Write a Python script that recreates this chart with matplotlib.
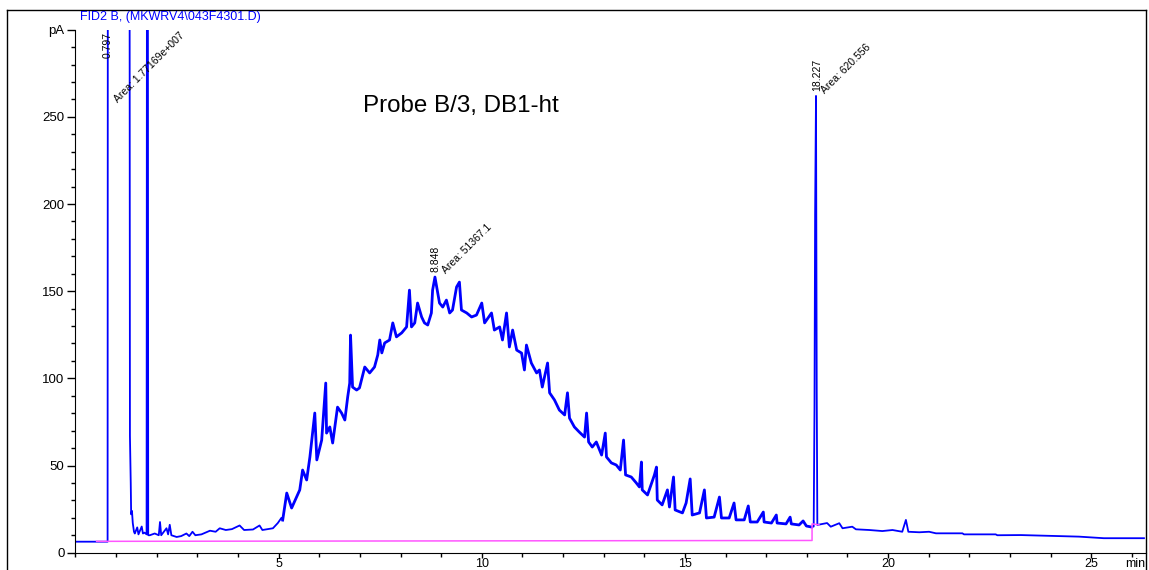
import matplotlib.pyplot as plt
from matplotlib.lines import Line2D
from matplotlib.ticker import MultipleLocator

plt.rcParams['font.family'] = ['Liberation Sans', 'DejaVu Sans']

# signal, time in min, signal in pA
# start, solvent peaks and flat part up to ~5 min
early_min = [0.0, 0.79, 0.797, 1.33, 1.34, 1.36, 1.37, 1.39, 1.41, 1.44, 1.46, 1.52, 1.55,
             1.63, 1.66, 1.70, 1.75, 1.76, 1.78, 1.79, 1.83, 1.95, 2.05, 2.08, 2.11, 2.24,
             2.28, 2.32, 2.36, 2.49, 2.60, 2.73, 2.80, 2.88, 2.95, 3.10, 3.31, 3.45, 3.55,
             3.70, 3.85, 4.04, 4.15, 4.37, 4.53, 4.60, 4.86, 4.98, 5.07, 5.10]
early_pa = [6.3, 6.3, 400, 400, 67, 40, 22, 24, 17, 12, 11, 14.5, 10.5,
            15, 11, 11.5, 10.5, 400, 400, 10, 10, 11, 10, 17.6, 10, 14,
            10.5, 16, 10, 9, 9.5, 11, 9.5, 12, 10, 10.5, 12.6, 12, 14,
            13, 13.5, 15.6, 13, 13.3, 15.6, 13, 14, 17, 20, 18.7]

# the broad hump, 5 - 18 min
hump_min = [5.10, 5.20, 5.32, 5.52, 5.59, 5.69, 5.77, 5.89, 5.94, 6.06, 6.16, 6.18, 6.26,
            6.33, 6.45, 6.55, 6.63, 6.70, 6.75, 6.77, 6.82, 6.92, 6.99, 7.12, 7.24, 7.36,
            7.44, 7.49, 7.54, 7.61, 7.73, 7.81, 7.90, 8.03, 8.15, 8.22, 8.27, 8.35, 8.42,
            8.52, 8.59, 8.67, 8.76, 8.79, 8.848, 8.96, 9.04, 9.13, 9.21, 9.28, 9.38, 9.45,
            9.50, 9.63, 9.75, 9.87, 10.00, 10.07, 10.24, 10.31, 10.44, 10.51, 10.61, 10.68,
            10.76, 10.86, 10.98, 11.05, 11.10, 11.22, 11.35, 11.42, 11.49, 11.62, 11.67,
            11.79, 11.91, 12.04, 12.11, 12.16, 12.28, 12.40, 12.53, 12.58, 12.63, 12.72,
            12.82, 12.95, 13.04, 13.07, 13.19, 13.31, 13.41, 13.49, 13.54, 13.68, 13.80,
            13.88, 13.93, 13.95, 14.08, 14.25, 14.30, 14.32, 14.44, 14.57, 14.62, 14.72,
            14.76, 14.94, 15.03, 15.13, 15.18, 15.36, 15.48, 15.53, 15.72, 15.85, 15.90,
            16.09, 16.21, 16.26, 16.46, 16.56, 16.61, 16.78, 16.93, 16.95, 17.13, 17.25,
            17.27, 17.49, 17.59, 17.62, 17.81, 17.91, 17.99, 18.12]
hump_pa = [18.7, 34.2, 25.6, 36, 47.4, 41.7, 54.9, 80.1, 53.2, 64.6, 97.3, 68.6, 72.1,
           62.9, 83.5, 80.1, 76.1, 89.3, 97.3, 124.8, 95, 93.3, 94.5, 106.5, 103.1, 106.5,
           113.4, 122, 114.6, 120.3, 122, 131.8, 123.8, 126.1, 129.5, 150.6, 129.5, 131.8, 143.2,
           135.2, 131.8, 130.6, 137.5, 150.6, 158.1, 143.2, 140.9, 144.9, 137.5, 139.2, 152.4, 155.2,
           139.2, 137.5, 135.2, 136.3, 143.2, 131.8, 137.5, 127.7, 129.5, 122, 137.5, 118,
           127.7, 116.2, 114.5, 104.8, 119.1, 108.8, 103.1, 104.8, 95, 108.8, 91.7,
           87.6, 81.8, 79, 91.7, 77.2, 72.1, 69.2, 66.3, 80.1, 63.5, 60.6,
           63.5, 56, 68.6, 54.9, 51.5, 50.3, 47.4, 64.6, 44.6, 43.4, 40.1,
           37.7, 52, 36, 33.1, 44.6, 49.1, 30.2, 27.4, 36, 26.2, 43.4,
           24.5, 22.8, 28.5, 42.3, 21.6, 22.8, 36, 19.9, 20.4, 31.9, 19.9,
           19.9, 28.5, 18.8, 18.8, 26.8, 17.6, 17.6, 23.3, 17.6, 17, 21.6,
           17, 16.5, 20.4, 16.5, 15.9, 18.2, 15.3, 14.7]

# peak at 18.227 and the tail
late_min = [18.12, 18.17, 18.19, 18.205, 18.227, 18.245, 18.26, 18.50, 18.59, 18.80, 18.88,
            19.12, 19.21, 19.54, 19.86, 20.11, 20.35, 20.44, 20.50, 20.77, 21.01, 21.18,
            21.83, 21.87, 22.65, 22.69, 23.27, 24.70, 25.31, 26.30]
late_pa = [14.7, 15, 83, 194, 262, 92, 15.9, 17, 14.9, 16.9, 14,
           14.9, 13.4, 13, 12.4, 13, 12, 18.8, 12, 11.7, 12, 11.1,
           11.1, 10.5, 10.5, 10, 10.1, 9.2, 8.3, 8.3]

# integration baselines
base_min = [0.52, 18.13, 18.13, 18.30]
base_pa = [6.5, 7.0, 16.5, 16.0]

labels = [(0.79, 284, '0.797', 90), (1.05, 258, 'Area: 1.77169e+007', 45),
          (8.87, 161, '8.848', 90), (9.13, 160, 'Area: 51367.1', 45),
          (18.26, 265, '18.227', 90), (18.45, 263, 'Area: 620.556', 45)]

fig = plt.figure(figsize=(11.49, 5.70), dpi=100)
ax = fig.add_axes([0.0657, 0.0304, 0.9317, 0.9175])

ax.plot(early_min, early_pa, color='#0000ff', lw=1.3)
ax.plot(hump_min, hump_pa, color='#0000ff', lw=2.0)
ax.plot(late_min, late_pa, color='#0000ff', lw=1.3)
ax.plot(base_min, base_pa, color='#ff55ff', lw=1.1)

for x, y, s, rot in labels:
    if rot == 90:
        ax.text(x, y, s, rotation=90, ha='center', va='bottom', fontsize=7.5)
    else:
        ax.text(x, y, s, rotation=45, rotation_mode='anchor', ha='left', va='baseline', fontsize=7.5)

ax.text(7.07, 253, 'Probe B/3, DB1-ht', fontsize=17.4, va='baseline')

ax.set_xlim(0, 26.35)
ax.set_ylim(0, 300)
ax.set_xticks([5, 10, 15, 20, 25])
ax.set_yticks([0, 50, 100, 150, 200, 250, 300])
ax.set_yticklabels(['0', '50', '100', '150', '200', '250', 'pA'])
ax.xaxis.set_minor_locator(MultipleLocator(1))
ax.yaxis.set_minor_locator(MultipleLocator(10))
ax.tick_params(axis='y', which='major', length=6, width=1, labelsize=9.5, pad=2)
ax.tick_params(axis='x', which='major', length=3.5, width=1, labelsize=9, pad=0)
ax.tick_params(which='minor', length=3, width=1)
ax.spines['top'].set_visible(False)
ax.spines['right'].set_visible(False)
ax.text(0.99, -0.01, 'min', transform=ax.transAxes, ha='center', va='top', fontsize=9)

fig.text(80 / 1149, 1 - 17 / 570, 'FID2 B, (MKWRV4\\043F4301.D)', color='#0000ff',
         fontsize=9, va='center')

# outer frame
fig.add_artist(Line2D([7 / 1149, 7 / 1149], [0, 1 - 10 / 570], color='black', lw=1))
fig.add_artist(Line2D([7 / 1149, 1146 / 1149], [1 - 10 / 570, 1 - 10 / 570], color='black', lw=1))
fig.add_artist(Line2D([1146 / 1149, 1146 / 1149], [0, 1 - 10 / 570], color='black', lw=1))

plt.savefig('out.png', dpi=100)
